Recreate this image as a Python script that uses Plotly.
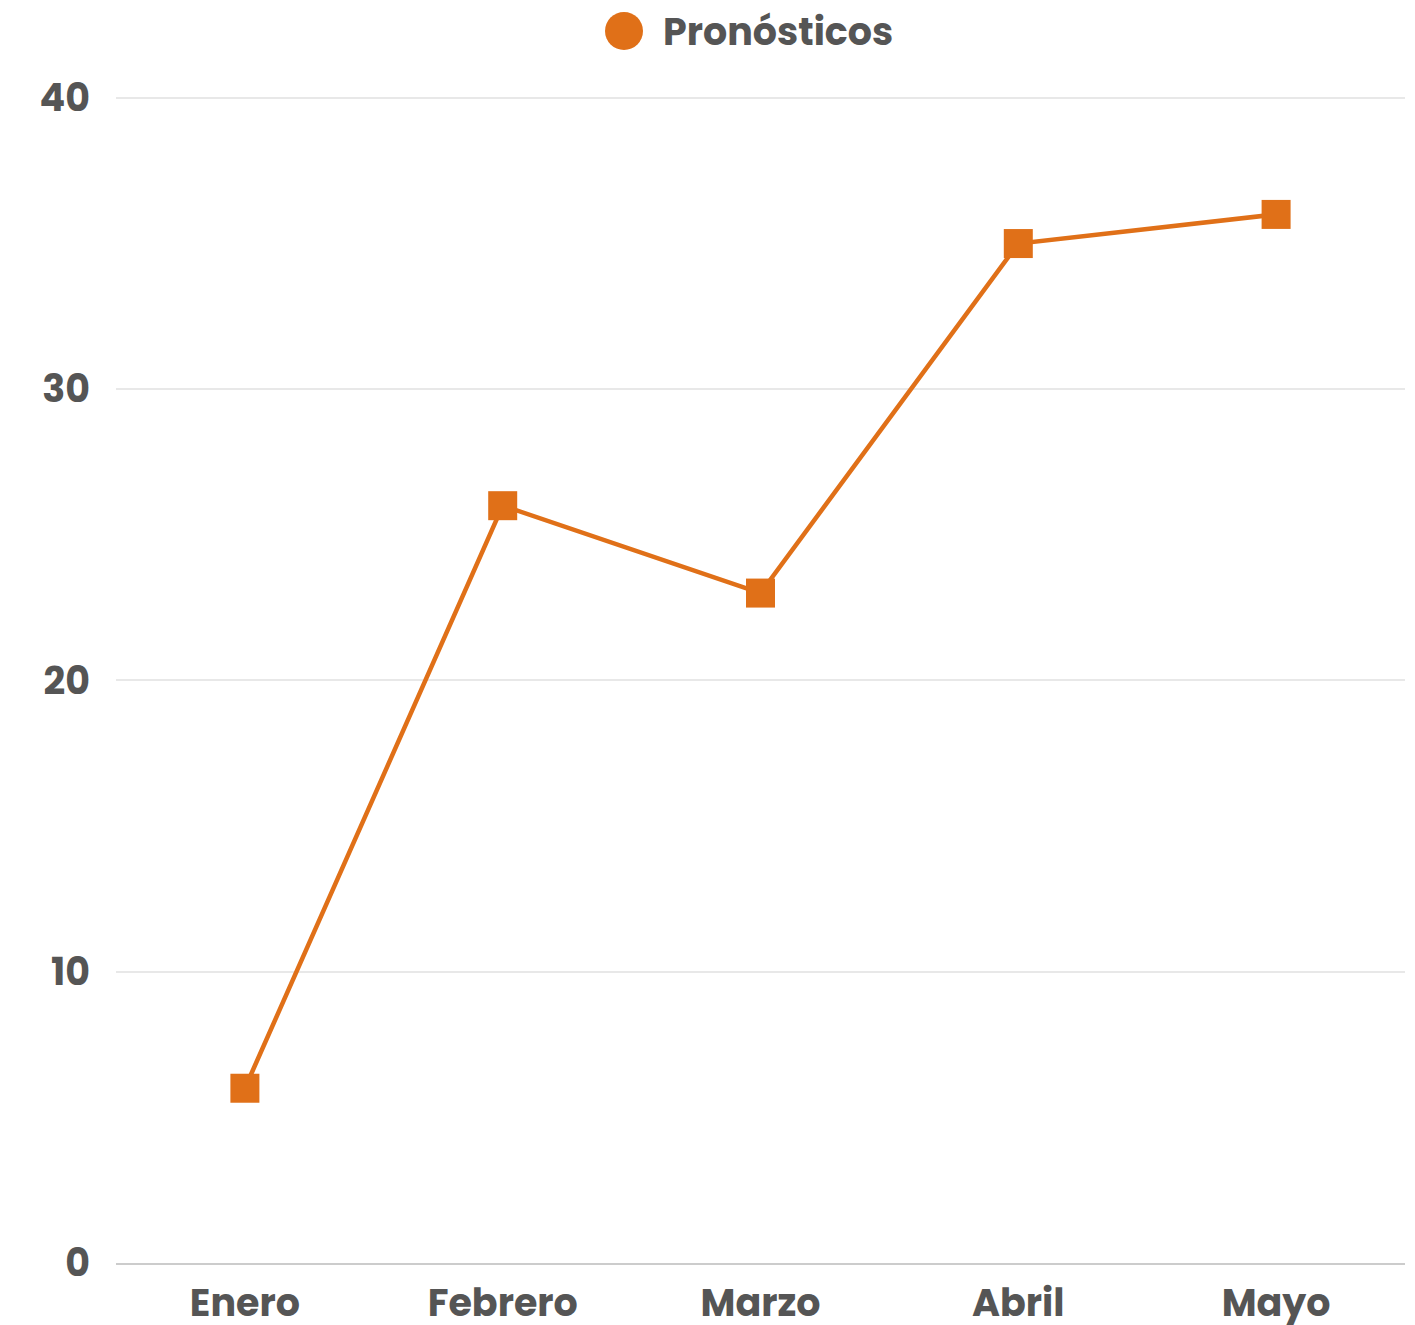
import plotly.graph_objects as go

months = ["Enero", "Febrero", "Marzo", "Abril", "Mayo"]
values = [6, 26, 23, 35, 36]
y_ticks = [0, 10, 20, 30, 40]
series_name = "Pronósticos"

orange = "#E07018"
text_color = "#555555"
font_family = "Poppins, Open Sans, sans-serif"

W, H = 1415, 1325
ML, MR, MT, MB = 116, 10, 95, 62
plot_w = W - ML - MR
plot_h = H - MT - MB

fig = go.Figure()
fig.add_trace(go.Scatter(
    x=months, y=values, name=series_name, mode="lines+markers",
    line=dict(color=orange, width=4.5),
    marker=dict(symbol="square", size=29, color=orange),
    showlegend=False,
))

# legend (large round swatch + label), drawn above the plot
leg_cx = (624 - ML) / plot_w
leg_cy = 1 + (MT - 31) / plot_h
fig.add_shape(type="circle", xref="paper", yref="paper",
              xsizemode="pixel", ysizemode="pixel",
              xanchor=leg_cx, yanchor=leg_cy, x0=-19, x1=19, y0=-19, y1=19,
              fillcolor=orange, line=dict(width=0))
fig.add_annotation(text=series_name, xref="paper", yref="paper",
                   x=(661 - ML) / plot_w, y=1 + (MT - 32) / plot_h,
                   xanchor="left", yanchor="middle", showarrow=False,
                   font=dict(size=38, color=text_color, weight=700, family=font_family))

fig.update_layout(
    width=W, height=H,
    paper_bgcolor="white", plot_bgcolor="white",
    margin=dict(l=ML, r=MR, t=MT, b=MB),
    showlegend=False,
    font=dict(family=font_family, size=38, color=text_color, weight=700),
    xaxis=dict(range=[-0.5, 4.5], showgrid=False, showline=True, linecolor="#cccccc",
               linewidth=2, ticks="", automargin=False, ticklabelstandoff=5,
               tickfont=dict(size=38, color=text_color, weight=700)),
    yaxis=dict(range=[0, 40.1], tickvals=y_ticks, showgrid=True, gridcolor="#e8e8e8",
               gridwidth=1.5, zeroline=False, showline=False, ticks="", automargin=False,
               ticklabelstandoff=25,
               tickfont=dict(size=38, color=text_color, weight=700)),
)

fig.write_html("out.html", config={"displayModeBar": False},
               post_script="document.body.style.margin='0';document.body.style.overflow='hidden';")
